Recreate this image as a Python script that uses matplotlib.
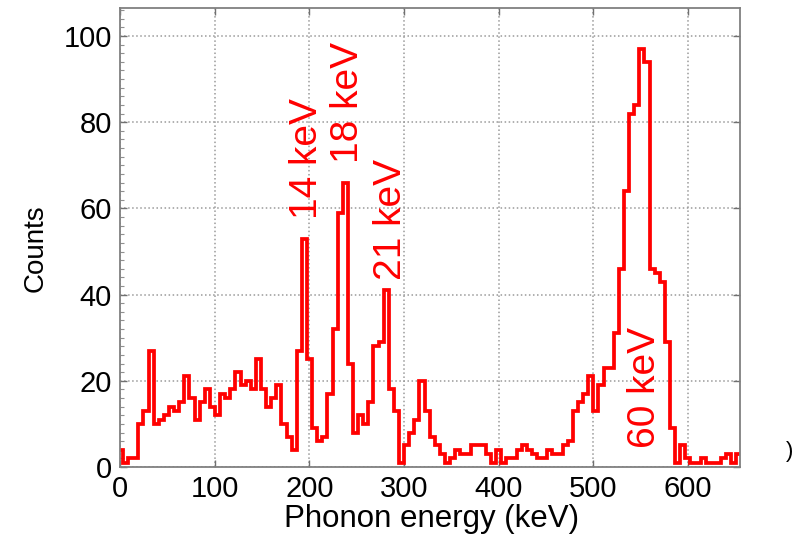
import numpy as np
import matplotlib
matplotlib.use("Agg")
import matplotlib.pyplot as plt
from matplotlib.ticker import MultipleLocator

plt.rcParams['font.family'] = ['Liberation Sans', 'DejaVu Sans']

# histogram: bin width and first edge (keV), counts per bin
bin_width = 5.4
first_edge = -2.2
counts = [4, 1, 2, 2, 10, 13, 27, 10, 11, 12,
          14, 13, 15, 21, 16, 11, 15, 18, 14, 12,
          17, 16, 18, 22, 19, 20, 18, 25, 18, 14,
          16, 19, 10, 7, 4, 27, 53, 25, 9, 6,
          7, 17, 32, 59, 66, 24, 8, 12, 10, 15,
          28, 29, 41, 18, 13, 1, 5, 8, 11, 20,
          13, 7, 5, 3, 1, 2, 4, 3, 3, 5,
          5, 5, 3, 1, 4, 1, 2, 2, 4, 5,
          4, 3, 2, 2, 4, 3, 3, 5, 6, 13,
          15, 17, 21, 13, 19, 23, 23, 31, 46, 64,
          82, 84, 97, 94, 46, 45, 43, 29, 9, 1,
          5, 2, 1, 1, 2, 1, 1, 1, 2, 3,
          1, 3]
edges = first_edge + bin_width * np.arange(len(counts) + 1)

# peak labels: text, energy of baseline, count at centre
peak_labels = ["14 keV", "18 keV", "21 keV", "60 keV"]
peak_x = [208, 251, 297, 565]
peak_y = [71.5, 84.5, 57.5, 18.5]

x_ticks = [0, 100, 200, 300, 400, 500, 600]
y_ticks = [0, 20, 40, 60, 80, 100]

fig = plt.figure(figsize=(8.01, 5.40), dpi=100)
ax = fig.add_axes([120 / 801, 73 / 540, 620 / 801, 459 / 540])

ax.stairs(counts, edges, color='#ff0000', linewidth=2.7, baseline=None)

for txt, x, y in zip(peak_labels, peak_x, peak_y):
    ax.text(x, y, txt, rotation=90, rotation_mode='anchor', ha='center',
            va='baseline', color='#ff0000', fontsize=28)

ax.set_xlim(0, 655)
ax.set_ylim(0, 106.5)
ax.set_xticks(x_ticks)
ax.set_yticks(y_ticks)
ax.yaxis.set_minor_locator(MultipleLocator(2))
ax.grid(True, which='major', linestyle=':', color='#9a9a9a', linewidth=1.1)
ax.set_axisbelow(True)

for sp in ax.spines.values():
    sp.set_color('#808080')
    sp.set_linewidth(1.3)
ax.tick_params(which='major', direction='in', length=5, width=1, color='#707070',
               top=True, right=True, labelsize=21, pad=6)
ax.tick_params(which='minor', direction='in', length=3, width=0.8, color='#909090',
               left=True, right=False)

ax.set_xlabel("Phonon energy (keV)", fontsize=22.5)
ax.set_ylabel("Counts", fontsize=20)
ax.xaxis.set_label_coords(0.503, -0.08)
ax.yaxis.set_label_coords(-0.115, 0.477)

fig.text(790 / 801, 1 - 452 / 540, ")", fontsize=16, ha='center', va='center')

fig.savefig("out.png", dpi=100)
